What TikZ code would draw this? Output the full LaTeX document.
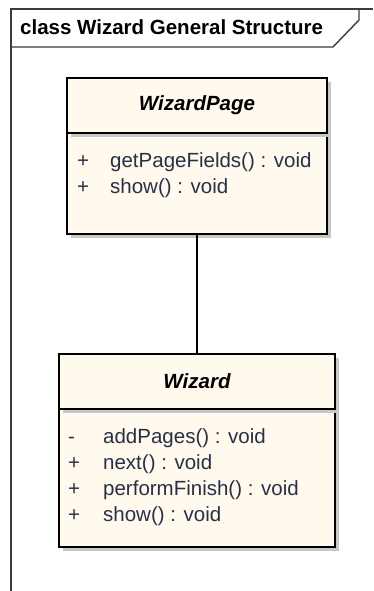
\documentclass[tikz,border=0pt]{standalone}
\usepackage{fontspec}
\setmainfont{Liberation Sans}
\usetikzlibrary{positioning, shadows, calc}
\definecolor{classfill}{RGB}{255,249,238}
\definecolor{shadowgrey}{RGB}{200,200,200}
\definecolor{optext}{RGB}{40,48,72}
\definecolor{framegrey}{RGB}{60,60,60}
\tikzset{
    umlfont/.style={font=\fontsize{20.5}{24}\selectfont},
    classbox/.style={
        draw=black, line width=1.6pt, fill=classfill, inner sep=0pt,
        minimum width=#1,
        drop shadow={shadow xshift=4pt, shadow yshift=-4pt, fill=shadowgrey, opacity=1}
    },
    classhead/.style={classbox=#1, minimum height=55pt, umlfont, font=\bfseries\itshape\fontsize{20.5}{24}\selectfont},
    oprow/.style={anchor=base west, inner sep=0pt, text=optext, umlfont}
}
\begin{document}
\begin{tikzpicture}[x=1pt, y=-1pt]
    \useasboundingbox (0,0) rectangle (373,591);
    % diagram frame and its name tab
    \draw[framegrey, line width=1.4pt] (373,9) -- (11,9) -- (11,591);
    \draw[framegrey, line width=1.4pt] (11,47) -- (333,47) -- (359,20) -- (359,9);
    \node[anchor=base west, inner sep=0pt, font=\bfseries\fontsize{20.5}{24}\selectfont] (title) at (20,35) {class Wizard General Structure};

    % WizardPage
    \node[classbox=260pt, minimum height=101pt] (pageBody) at (197,183.5) {};
    \node[classhead=260pt] (pageHead) at (197,105.5) {WizardPage};
    \foreach \s/\m [count=\i] in {+/getPageFields() : void, +/show() : void}
    {
        \node[oprow] (pageSign\i) at (77,167+26*\i-26) {\s};
        \node[oprow] (pageOp\i) at (110,167+26*\i-26) {\m};
    }

    % Wizard
    \node[classbox=276pt, minimum height=138pt] (wizBody) at (197,478) {};
    \node[classhead=276pt] (wizHead) at (197,381.5) {Wizard};
    \foreach \s/\m [count=\i] in {-/addPages() : void, +/next() : void, +/performFinish() : void, +/show() : void}
    {
        \node[oprow] (wizSign\i) at (68,443+26*\i-26) {\s};
        \node[oprow] (wizOp\i) at (103,443+26*\i-26) {\m};
    }

    % association
    \draw[line width=1.6pt] (pageBody.south) -- (wizHead.north);
\end{tikzpicture}
\end{document}
